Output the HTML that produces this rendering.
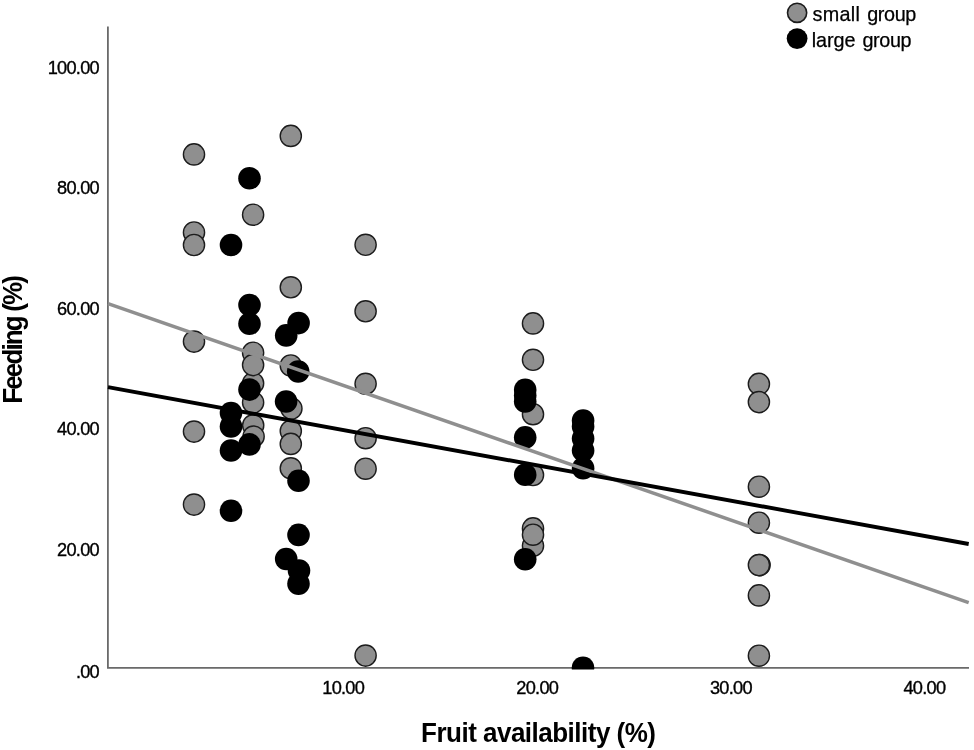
<!DOCTYPE html>
<html lang="en">
<head>
<meta charset="utf-8">
<title>Feeding vs fruit availability</title>
<style>
html,body{margin:0;padding:0;background:#fff;}
body{width:974px;height:750px;overflow:hidden;}
svg{display:block;}
text{font-family:"Liberation Sans",sans-serif;fill:#000;}
.tick{font-size:18.2px;letter-spacing:-0.72px;stroke:#000;stroke-width:0.35px;}
.leg{font-size:19.8px;stroke:#000;stroke-width:0.25px;}
.ttl{font-size:26px;font-weight:bold;}
</style>
</head>
<body>
<svg width="974" height="750" viewBox="0 0 974 750">
<rect x="0" y="0" width="974" height="750" fill="#ffffff"/>
<defs><clipPath id="plot"><rect x="107" y="20" width="863" height="649.6"/></clipPath></defs>

<path d="M107.9 26.4 V667.9 H969" fill="none" stroke="#6a6a6a" stroke-width="1.8"/>
<g clip-path="url(#plot)">
<g fill="#8f8f8f" stroke="#1c1c1c" stroke-width="1.4">
<circle cx="194" cy="154.4" r="10.6"/>
<circle cx="194" cy="232.5" r="10.6"/>
<circle cx="194" cy="245" r="10.6"/>
<circle cx="194" cy="341.6" r="10.6"/>
<circle cx="194" cy="431.6" r="10.6"/>
<circle cx="194" cy="504.6" r="10.6"/>
<circle cx="253.1" cy="214.7" r="10.6"/>
<circle cx="253.1" cy="352.7" r="10.6"/>
<circle cx="253.1" cy="383.2" r="10.6"/>
<circle cx="253.1" cy="365.1" r="10.6"/>
<circle cx="253.1" cy="402.5" r="10.6"/>
<circle cx="253.2" cy="425.3" r="10.6"/>
<circle cx="253.6" cy="436.6" r="10.6"/>
<circle cx="290.8" cy="135.9" r="10.6"/>
<circle cx="290.8" cy="287.3" r="10.6"/>
<circle cx="290.8" cy="365.5" r="10.6"/>
<circle cx="291.4" cy="408.5" r="10.6"/>
<circle cx="290.8" cy="431.0" r="10.6"/>
<circle cx="290.8" cy="443.9" r="10.6"/>
<circle cx="290.8" cy="468.3" r="10.6"/>
<circle cx="365.6" cy="244.8" r="10.6"/>
<circle cx="365.6" cy="311.3" r="10.6"/>
<circle cx="365.6" cy="383.8" r="10.6"/>
<circle cx="365.6" cy="438.2" r="10.6"/>
<circle cx="365.6" cy="468.7" r="10.6"/>
<circle cx="365.6" cy="655.6" r="10.6"/>
<circle cx="533" cy="323.4" r="10.6"/>
<circle cx="533" cy="359.8" r="10.6"/>
<circle cx="533" cy="414.2" r="10.6"/>
<circle cx="533" cy="475" r="10.6"/>
<circle cx="533" cy="528.4" r="10.6"/>
<circle cx="533" cy="545.7" r="10.6"/>
<circle cx="533" cy="534.7" r="10.6"/>
<circle cx="758.9" cy="383.9" r="10.6"/>
<circle cx="758.9" cy="402.1" r="10.6"/>
<circle cx="758.9" cy="486.7" r="10.6"/>
<circle cx="758.9" cy="522.7" r="10.6"/>
<circle cx="759.6" cy="565.1" r="10.6"/>
<circle cx="758.9" cy="565.1" r="10.6"/>
<circle cx="758.9" cy="595.4" r="10.6"/>
<circle cx="758.9" cy="655.7" r="10.6"/>
</g>
<g fill="#000000">
<circle cx="231" cy="245" r="11.3"/>
<circle cx="231" cy="413.1" r="11.3"/>
<circle cx="231" cy="426.5" r="11.3"/>
<circle cx="231" cy="450.5" r="11.3"/>
<circle cx="231" cy="510.7" r="11.3"/>
<circle cx="249.5" cy="178.3" r="11.3"/>
<circle cx="249.5" cy="305" r="11.3"/>
<circle cx="249.5" cy="323.8" r="11.3"/>
<circle cx="249.5" cy="389.6" r="11.3"/>
<circle cx="249.5" cy="444.4" r="11.3"/>
<circle cx="286.2" cy="335.4" r="11.3"/>
<circle cx="286.1" cy="401.5" r="11.3"/>
<circle cx="286.2" cy="559" r="11.3"/>
<circle cx="298.6" cy="323.1" r="11.3"/>
<circle cx="298.2" cy="371.5" r="11.3"/>
<circle cx="298.5" cy="480.7" r="11.3"/>
<circle cx="298.5" cy="534.9" r="11.3"/>
<circle cx="299.0" cy="570.6" r="11.3"/>
<circle cx="298.5" cy="583.7" r="11.3"/>
<circle cx="525.2" cy="389.8" r="11.3"/>
<circle cx="525.2" cy="395.5" r="11.3"/>
<circle cx="525.2" cy="401.5" r="11.3"/>
<circle cx="525.2" cy="437.4" r="11.3"/>
<circle cx="525.2" cy="474.8" r="11.3"/>
<circle cx="525.2" cy="559.3" r="11.3"/>
<circle cx="583.1" cy="420.5" r="11.3"/>
<circle cx="583.1" cy="426.5" r="11.3"/>
<circle cx="583.1" cy="438.5" r="11.3"/>
<circle cx="583.1" cy="450.5" r="11.3"/>
<circle cx="583.1" cy="468.2" r="11.3"/>
<circle cx="583.0" cy="667.8" r="11.3"/>
</g>
</g>
<line x1="108" y1="303.6" x2="968.7" y2="602.7" stroke="#8f8f8f" stroke-width="3.5"/>
<line x1="108" y1="387.2" x2="968.7" y2="544" stroke="#000000" stroke-width="3.9"/>
<text class="tick" x="99.0" y="73.5" text-anchor="end">100.00</text>
<text class="tick" x="99.0" y="194.1" text-anchor="end">80.00</text>
<text class="tick" x="99.0" y="314.7" text-anchor="end">60.00</text>
<text class="tick" x="99.0" y="435.3" text-anchor="end">40.00</text>
<text class="tick" x="99.0" y="556.0" text-anchor="end">20.00</text>
<text class="tick" x="99.0" y="678.2" text-anchor="end">.00</text>
<text class="tick" x="343.2" y="693.6" text-anchor="middle">10.00</text>
<text class="tick" x="537.3" y="693.6" text-anchor="middle">20.00</text>
<text class="tick" x="730.9" y="693.6" text-anchor="middle">30.00</text>
<text class="tick" x="924.4" y="693.6" text-anchor="middle">40.00</text>
<text class="ttl" transform="translate(421.1 741.7) scale(1 1.06)" textLength="234.9" lengthAdjust="spacing">Fruit availability (%)</text>
<text class="ttl" transform="translate(22.0 403.8) rotate(-90) scale(1 1.06)" letter-spacing="-1.85">Feeding (%)</text>
<circle cx="797.1" cy="12.8" r="9.6" fill="#8f8f8f" stroke="#1c1c1c" stroke-width="1.6"/>
<circle cx="797.1" cy="38.6" r="10.4" fill="#000"/>
<text class="leg" y="20.9"><tspan x="812.6" letter-spacing="0.3">small</tspan> <tspan x="867.2" letter-spacing="-0.38">group</tspan></text>
<text class="leg" y="47.4"><tspan x="811.8" letter-spacing="-0.1">large</tspan> <tspan x="862.5" letter-spacing="-0.38">group</tspan></text>
</svg>
</body>
</html>
